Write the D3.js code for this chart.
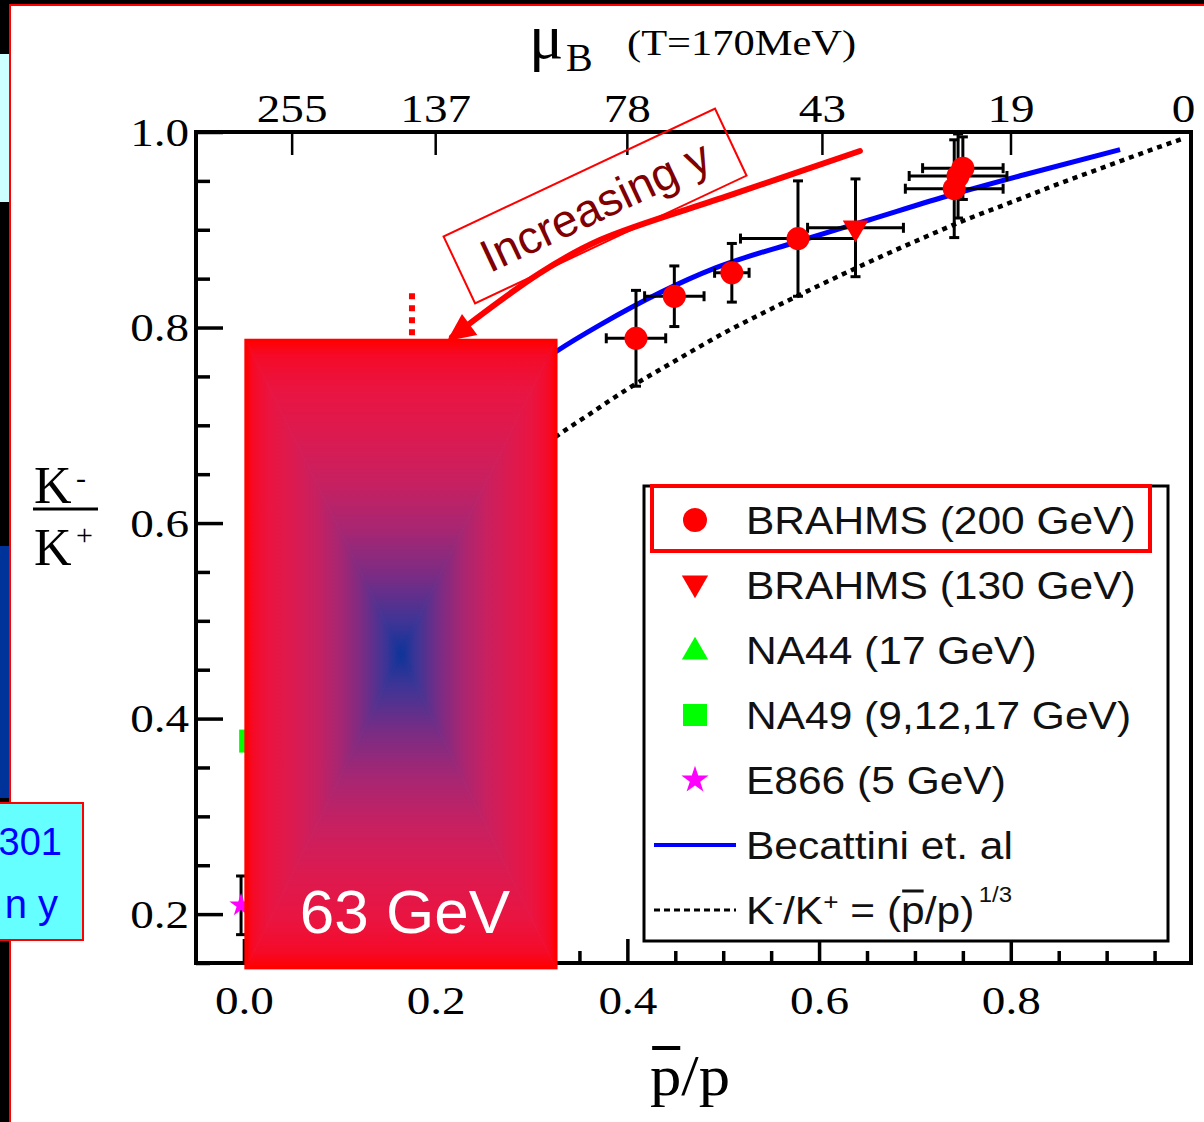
<!DOCTYPE html>
<html lang="en">
<head>
<meta charset="UTF-8" />
<title>K-/K+ vs pbar/p</title>
<script src="https://d3js.org/d3.v7.min.js"></script>
<style>
  body { margin: 0; background: #fff; }
</style>
</head>
<body>
<script>
var width = 1204, height = 1122;
var serif = '"Liberation Serif", "DejaVu Serif", serif';
var sans = '"Liberation Sans", Arial, sans-serif';

// values
var brahms200X    = [0.409, 0.449, 0.509, 0.578, 0.741, 0.745, 0.750];
var brahms200Y    = [0.789, 0.832, 0.856, 0.891, 0.942, 0.955, 0.963];
var brahms200XErr = [0.031, 0.031, 0.018, 0.060, 0.051, 0.051, 0.042];
var brahms200YErr = [0.049, 0.031, 0.030, 0.059, 0.050, 0.043, 0.032];

var brahms130X = [0.638], brahms130Y = [0.902];
var brahms130XErr = [0.050], brahms130YErr = [0.050];

var na49X = [0.007], na49Y = [0.377];
var e866X = [-0.003], e866Y = [0.209], e866YErr = [0.030];

var becattiniX = [0.30, 0.325, 0.372, 0.492, 0.578, 0.652, 0.732, 0.813, 0.914];
var becattiniY = [0.758, 0.775, 0.803, 0.861, 0.888, 0.910, 0.934, 0.956, 0.982];

var cubeRootX = [0.30, 0.325, 0.36, 0.40, 0.45, 0.50, 0.55, 0.60, 0.65, 0.70, 0.75, 0.80, 0.85, 0.90, 0.95, 0.979];
var cubeRootY = [0.669, 0.688, 0.711, 0.737, 0.766, 0.794, 0.819, 0.843, 0.866, 0.888, 0.909, 0.928, 0.947, 0.965, 0.983, 0.993];

var xMajor = [0, 0.2, 0.4, 0.6, 0.8];
var xMinor = [0.05, 0.1, 0.15, 0.25, 0.3, 0.35, 0.45, 0.5, 0.55, 0.65, 0.7, 0.75, 0.85, 0.9, 0.95];
var yMajor = [0.2, 0.4, 0.6, 0.8, 1.0];
var yMinor = [0.15, 0.25, 0.3, 0.35, 0.45, 0.5, 0.55, 0.65, 0.7, 0.75, 0.85, 0.9, 0.95];
var muBTicks = [255, 137, 78, 43, 19, 0];
var temperature = 170;

var legendLabels = ['BRAHMS (200 GeV)', 'BRAHMS (130 GeV)', 'NA44 (17 GeV)', 'NA49 (9,12,17 GeV)', 'E866 (5 GeV)', 'Becattini et. al'];

var svg = d3.select('body').append('svg').attr('width', width).attr('height', height);

// slide background bits
var bg = svg.append('g');
bg.append('rect').attr('width', width).attr('height', height).attr('fill', '#fff');
bg.append('rect').attr('x', 0).attr('y', 0).attr('width', width).attr('height', 4).attr('fill', '#000');
bg.append('rect').attr('x', 0).attr('y', 4).attr('width', width).attr('height', 2).attr('fill', '#f00');
bg.append('rect').attr('x', 0).attr('y', 0).attr('width', 9).attr('height', height).attr('fill', '#000');
bg.append('rect').attr('x', 0).attr('y', 54).attr('width', 9).attr('height', 148).attr('fill', '#ccffff');
bg.append('rect').attr('x', 0).attr('y', 546).attr('width', 9).attr('height', 252).attr('fill', '#003399');
bg.append('rect').attr('x', 9).attr('y', 4).attr('width', 2).attr('height', height).attr('fill', '#f00');

var x = d3.scaleLinear().domain([-0.05, 0.988]).range([196, 1191]);
var y = d3.scaleLinear().domain([0.15, 1.0]).range([963, 132]);

function stretch(sel, k) {
  sel.attr('transform', 'scale(' + k + ',1)');
}

// axes
var fmt = d3.format('.1f');
var gBottom = svg.append('g').attr('transform', 'translate(0,' + y.range()[0] + ')');
gBottom.call(d3.axisBottom(x).tickValues(xMajor).tickSize(-24).tickPadding(22).tickFormat(fmt));
var gBottomMinor = svg.append('g').attr('transform', 'translate(0,' + y.range()[0] + ')');
gBottomMinor.call(d3.axisBottom(x).tickValues(xMinor).tickSize(-12).tickFormat(''));

var gLeft = svg.append('g').attr('transform', 'translate(' + x.range()[0] + ',0)');
gLeft.call(d3.axisLeft(y).tickValues(yMajor).tickSize(-27).tickPadding(6).tickFormat(fmt));
var gLeftMinor = svg.append('g').attr('transform', 'translate(' + x.range()[0] + ',0)');
gLeftMinor.call(d3.axisLeft(y).tickValues(yMinor).tickSize(-14).tickFormat(''));

var topPos = muBTicks.map(function (m) { return Math.exp(-2 * m / temperature); });
var gTop = svg.append('g').attr('transform', 'translate(0,' + y.range()[1] + ')');
gTop.call(d3.axisTop(x).tickValues(topPos).tickSize(-23).tickPadding(10)
  .tickFormat(function (d, i) { return muBTicks[i]; }));

[gBottom, gBottomMinor, gLeft, gLeftMinor, gTop].forEach(function (g) {
  g.select('.domain').remove();
  g.attr('font-family', serif).attr('font-size', 41);
  g.selectAll('line').attr('stroke', '#000').attr('stroke-width', 3.5);
  g.selectAll('text').attr('fill', '#000').call(stretch, 1.15);
});
gTop.selectAll('line').attr('stroke-width', 2.5);
// the mu_B = 0 tick sits past the frame edge; only its label shows
gTop.selectAll('.tick').filter(function (d) { return d > x.domain()[1]; })
  .each(function (d) {
    var t = d3.select(this);
    t.select('line').remove();
    t.select('text').attr('x', (x.range()[1] - 8 - x(d)) / 1.15);
  });

svg.append('rect')
  .attr('x', x.range()[0]).attr('y', y.range()[1])
  .attr('width', x.range()[1] - x.range()[0]).attr('height', y.range()[0] - y.range()[1])
  .attr('fill', 'none').attr('stroke', '#000').attr('stroke-width', 4);

// axis titles
var muT = svg.append('text').attr('font-family', serif).attr('fill', '#000');
muT.append('tspan').attr('x', 529).attr('y', 58).attr('font-size', 64).text('\u03bc');
muT.append('tspan').attr('x', 566).attr('y', 71).attr('font-size', 40).text('B');
svg.append('text').attr('font-family', serif).attr('font-size', 36).attr('fill', '#000')
  .attr('transform', 'translate(627,55) scale(1.18,1)').text('(T=170MeV)');

var yt = svg.append('g').attr('font-family', serif).attr('fill', '#000');
yt.append('text').attr('x', 34).attr('y', 503).attr('font-size', 52).text('K');
yt.append('text').attr('x', 76).attr('y', 488).attr('font-size', 30).text('-');
yt.append('line').attr('x1', 33).attr('x2', 98).attr('y1', 509).attr('y2', 509).attr('stroke', '#000').attr('stroke-width', 3);
yt.append('text').attr('x', 34).attr('y', 565).attr('font-size', 52).text('K');
yt.append('text').attr('x', 76).attr('y', 545).attr('font-size', 30).text('+');

var xt = svg.append('g').attr('transform', 'translate(650,1095) scale(1.08,1)');
var xtText = xt.append('text').attr('font-family', serif).attr('font-size', 58).attr('fill', '#000').text('p/p');
var pExt = xtText.node().getExtentOfChar(0);
xt.append('line').attr('x1', pExt.x + 2).attr('x2', pExt.x + pExt.width - 1)
  .attr('y1', -47).attr('y2', -47).attr('stroke', '#000').attr('stroke-width', 4);

// model curves
var line = d3.line().x(function (d) { return x(d[0]); }).y(function (d) { return y(d[1]); }).curve(d3.curveMonotoneX);
svg.append('path').attr('d', line(d3.zip(cubeRootX, cubeRootY)))
  .attr('fill', 'none').attr('stroke', '#000').attr('stroke-width', 4.5).attr('stroke-dasharray', '5,5');
svg.append('path').attr('d', line(d3.zip(becattiniX, becattiniY)))
  .attr('fill', 'none').attr('stroke', '#0000ff').attr('stroke-width', 5);

// error bars
var eb = svg.append('g').attr('stroke', '#000').attr('stroke-width', 3);
function errorBars(xs, ys, xe, ye) {
  var cap = 5;
  xs.forEach(function (xv, i) {
    var cx = x(xv), cy = y(ys[i]);
    if (xe && xe[i]) {
      var x0 = x(xv - xe[i]), x1 = x(xv + xe[i]);
      eb.append('line').attr('x1', x0).attr('x2', x1).attr('y1', cy).attr('y2', cy);
      [x0, x1].forEach(function (xx) {
        eb.append('line').attr('x1', xx).attr('x2', xx).attr('y1', cy - cap).attr('y2', cy + cap);
      });
    }
    if (ye && ye[i]) {
      var y0 = y(ys[i] - ye[i]), y1 = y(ys[i] + ye[i]);
      eb.append('line').attr('x1', cx).attr('x2', cx).attr('y1', y0).attr('y2', y1);
      [y0, y1].forEach(function (yy) {
        eb.append('line').attr('x1', cx - cap).attr('x2', cx + cap).attr('y1', yy).attr('y2', yy);
      });
    }
  });
}
errorBars(brahms200X, brahms200Y, brahms200XErr, brahms200YErr);
errorBars(brahms130X, brahms130Y, brahms130XErr, brahms130YErr);
errorBars(e866X, e866Y, null, e866YErr);

// markers
var marks = svg.append('g');
marks.selectAll('.b200').data(d3.zip(brahms200X, brahms200Y)).enter().append('circle')
  .attr('cx', function (d) { return x(d[0]); }).attr('cy', function (d) { return y(d[1]); })
  .attr('r', 11.5).attr('fill', '#ff0000');
marks.selectAll('.b130').data(d3.zip(brahms130X, brahms130Y)).enter().append('path')
  .attr('d', d3.symbol().type(d3.symbolTriangle).size(280))
  .attr('transform', function (d) { return 'translate(' + x(d[0]) + ',' + y(d[1]) + ') rotate(180)'; })
  .attr('fill', '#ff0000');
marks.selectAll('.na49').data(d3.zip(na49X, na49Y)).enter().append('rect')
  .attr('x', function (d) { return x(d[0]) - 11.5; }).attr('y', function (d) { return y(d[1]) - 11.5; })
  .attr('width', 23).attr('height', 23).attr('fill', '#00ff00');
marks.selectAll('.e866').data(d3.zip(e866X, e866Y)).enter().append('path')
  .attr('d', d3.symbol().type(d3.symbolStar).size(170))
  .attr('transform', function (d) { return 'translate(' + x(d[0]) + ',' + y(d[1]) + ')'; })
  .attr('fill', '#ff00ff');

// legend
var lg = svg.append('g');
var lgLeft = 644, lgTop = 486, lgRight = 1168, lgBottom = 941;
lg.append('rect').attr('x', lgLeft).attr('y', lgTop).attr('width', lgRight - lgLeft).attr('height', lgBottom - lgTop)
  .attr('fill', '#fff').attr('stroke', '#000').attr('stroke-width', 3);
var rowY = function (i) { return 520 + i * 65; };
var symX = 695, txtX = 746;
lg.append('circle').attr('cx', symX).attr('cy', rowY(0)).attr('r', 12).attr('fill', '#ff0000');
lg.append('path').attr('d', d3.symbol().type(d3.symbolTriangle).size(300))
  .attr('transform', 'translate(' + symX + ',' + (rowY(1) - 2) + ') rotate(180)').attr('fill', '#ff0000');
lg.append('path').attr('d', d3.symbol().type(d3.symbolTriangle).size(300))
  .attr('transform', 'translate(' + symX + ',' + (rowY(2) + 2) + ')').attr('fill', '#00ff00');
lg.append('rect').attr('x', symX - 12).attr('y', rowY(3) - 11).attr('width', 24).attr('height', 22).attr('fill', '#00ff00');
lg.append('path').attr('d', d3.symbol().type(d3.symbolStar).size(230))
  .attr('transform', 'translate(' + symX + ',' + rowY(4) + ')').attr('fill', '#ff00ff');
lg.append('line').attr('x1', 654).attr('x2', 736).attr('y1', rowY(5)).attr('y2', rowY(5))
  .attr('stroke', '#0000ff').attr('stroke-width', 4);
lg.append('line').attr('x1', 654).attr('x2', 736).attr('y1', rowY(6)).attr('y2', rowY(6))
  .attr('stroke', '#000').attr('stroke-width', 3).attr('stroke-dasharray', '6,4');

legendLabels.forEach(function (s, i) {
  lg.append('g').attr('transform', 'translate(' + txtX + ',' + (rowY(i) + 14) + ') scale(1.09,1)')
    .append('text').attr('font-family', sans).attr('font-size', 39).attr('fill', '#111').text(s);
});
var lastG = lg.append('g').attr('transform', 'translate(' + txtX + ',' + (rowY(6) + 14) + ') scale(1.09,1)');
var lastT = lastG.append('text').attr('font-family', sans).attr('font-size', 39).attr('fill', '#111');
lastT.append('tspan').text('K');
lastT.append('tspan').attr('font-size', 24).attr('dy', -14).text('-');
lastT.append('tspan').attr('dy', 14).text('/K');
lastT.append('tspan').attr('font-size', 24).attr('dy', -14).text('+');
lastT.append('tspan').attr('dy', 14).text(' = (');
lastT.append('tspan').text('p');
lastT.append('tspan').text('/p)');
lastT.append('tspan').attr('font-size', 22).attr('dx', 4).attr('dy', -22).text('1/3');
var pe = lastT.node().getExtentOfChar(9);
lastG.append('line').attr('x1', pe.x + 1).attr('x2', pe.x + pe.width - 1)
  .attr('y1', -33).attr('y2', -33).attr('stroke', '#111').attr('stroke-width', 3);

lg.append('rect').attr('x', 652).attr('y', lgTop).attr('width', 498).attr('height', 65)
  .attr('fill', 'none').attr('stroke', '#ff0000').attr('stroke-width', 4);

// slide annotations, placed in data units
var mark63X = 0.1753, mark63Top = 0.835;
var box63 = { x0: 0.002, x1: 0.3256, y0: 0.145, y1: 0.787 };
var incBox = { cx: 0.3663, cy: 0.9243, w: 300, h: 74, angle: -25.2 };
var arrowX = [0.6426, 0.5081, 0.3714, 0.3089, 0.2170];
var arrowY = [0.9806, 0.9356, 0.8895, 0.8558, 0.7903];
var arrowTip = [0.2119, 0.7862];

svg.append('line').attr('x1', x(mark63X)).attr('x2', x(mark63X)).attr('y1', y(mark63Top)).attr('y2', y(box63.y1))
  .attr('stroke', '#ff0000').attr('stroke-width', 6).attr('stroke-dasharray', '6,6');

var defs = svg.append('defs');
var L = x(box63.x0), R = x(box63.x1), T = y(box63.y1), B = y(box63.y0);
var cx = (L + R) / 2, cy = (T + B) / 2;
var stops = [[0, '#0d3399'], [0.1, '#3d3596'], [0.25, '#7a2c84'], [0.4, '#a82672'], [0.55, '#c82060'],
             [0.7, '#dc1a50'], [0.85, '#ea1440'], [0.95, '#f50a28'], [1, '#ff0000']];
var sides = [
  { id: 'gTop', pts: [[L, T], [R, T], [cx, cy]], end: [cx, T] },
  { id: 'gBot', pts: [[L, B], [R, B], [cx, cy]], end: [cx, B] },
  { id: 'gLft', pts: [[L, T], [L, B], [cx, cy]], end: [L, cy] },
  { id: 'gRgt', pts: [[R, T], [R, B], [cx, cy]], end: [R, cy] }
];
sides.forEach(function (s) {
  var lgr = defs.append('linearGradient').attr('id', s.id).attr('gradientUnits', 'userSpaceOnUse')
    .attr('x1', cx).attr('y1', cy).attr('x2', s.end[0]).attr('y2', s.end[1]);
  stops.forEach(function (st) {
    lgr.append('stop').attr('offset', st[0]).attr('stop-color', st[1]);
  });
});
var boxG = svg.append('g');
sides.forEach(function (s) {
  boxG.append('polygon').attr('points', s.pts.map(function (p) { return p.join(','); }).join(' '))
    .attr('fill', 'url(#' + s.id + ')').attr('stroke', 'url(#' + s.id + ')').attr('stroke-width', 1);
});
boxG.append('rect').attr('x', L).attr('y', T).attr('width', R - L).attr('height', B - T)
  .attr('fill', 'none').attr('stroke', '#ff0000').attr('stroke-width', 3);
boxG.append('text').attr('x', cx + 4).attr('y', 933).attr('text-anchor', 'middle')
  .attr('font-family', sans).attr('font-size', 62).attr('fill', '#fff').text('63 GeV');

var ib = svg.append('g').attr('transform', 'translate(' + x(incBox.cx) + ',' + y(incBox.cy) + ') rotate(' + incBox.angle + ')');
ib.append('rect').attr('x', -incBox.w / 2).attr('y', -incBox.h / 2).attr('width', incBox.w).attr('height', incBox.h)
  .attr('fill', 'none').attr('stroke', '#ff0000').attr('stroke-width', 2);
ib.append('text').attr('x', 0).attr('y', 16).attr('text-anchor', 'middle')
  .attr('font-family', sans).attr('font-size', 46).attr('fill', '#800000').text('Increasing y');

var arrowPts = d3.zip(arrowX, arrowY);
var arrowLine = d3.line().x(function (d) { return x(d[0]); }).y(function (d) { return y(d[1]); }).curve(d3.curveCatmullRom);
svg.append('path').attr('d', arrowLine(arrowPts)).attr('fill', 'none')
  .attr('stroke', '#ff0000').attr('stroke-width', 6).attr('stroke-linecap', 'round');
var tx = x(arrowTip[0]), ty = y(arrowTip[1]);
var px = x(arrowX[3]), py = y(arrowY[3]);
var dx = tx - px, dy = ty - py, dl = Math.sqrt(dx * dx + dy * dy);
dx /= dl; dy /= dl;
var hl = 28, hw = 13;
var bx = tx - dx * hl, by = ty - dy * hl;
svg.append('polygon')
  .attr('points', [[tx, ty], [bx - dy * hw, by + dx * hw], [bx + dy * hw, by - dx * hw]].map(function (p) { return p.join(','); }).join(' '))
  .attr('fill', '#ff0000');

// cropped cyan label at left edge of slide
var cyanG = svg.append('g');
cyanG.append('rect').attr('x', -5).attr('y', 803).attr('width', 88).attr('height', 137)
  .attr('fill', '#66ffff').attr('stroke', '#ff0000').attr('stroke-width', 2);
cyanG.append('text').attr('x', 62).attr('y', 855).attr('text-anchor', 'end')
  .attr('font-family', sans).attr('font-size', 38).attr('fill', '#0000ff').text('301');
cyanG.append('text').attr('x', 58).attr('y', 918).attr('text-anchor', 'end')
  .attr('font-family', sans).attr('font-size', 40).attr('fill', '#0000ff').text('n y');
</script>
</body>
</html>
